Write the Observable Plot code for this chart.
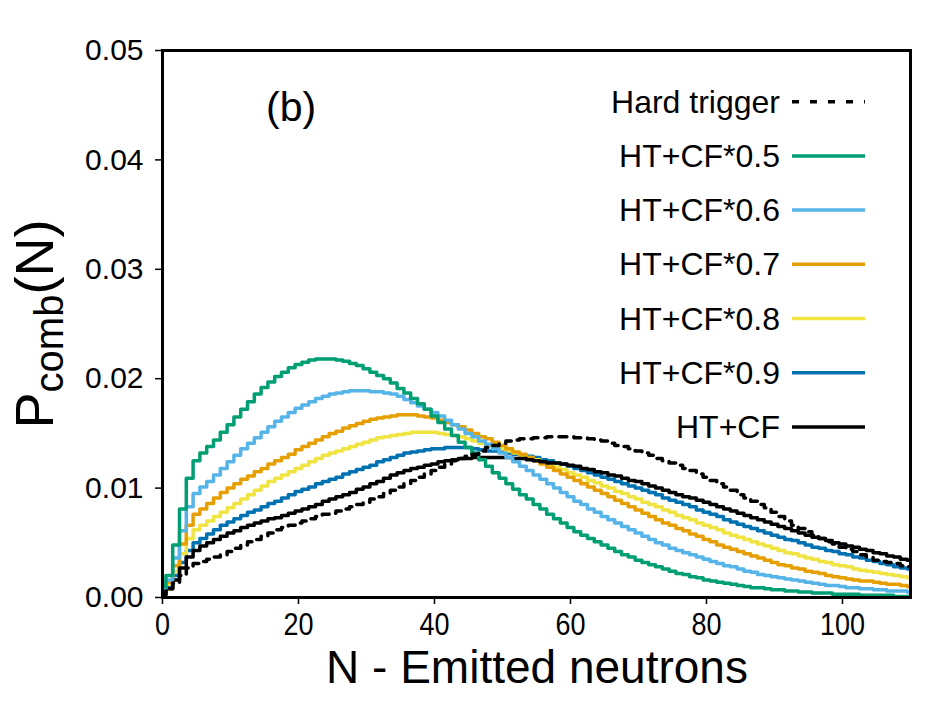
<!DOCTYPE html>
<html><head><meta charset="utf-8">
<script src="https://cdn.jsdelivr.net/npm/d3@7"></script>
<script src="https://cdn.jsdelivr.net/npm/@observablehq/plot@0.6"></script>
<style>
body{margin:0;background:#fff;}
#chart{width:932px;height:720px;}
svg text{font-family:"Liberation Sans",Arial,sans-serif;}
</style></head><body><div id="chart"></div>
<script>
// N - emitted neutrons (bins 0..110)
const N = d3.range(0, 111);
const xTicks = [0, 20, 40, 60, 80, 100];
const yTicks = [0, 0.01, 0.02, 0.03, 0.04, 0.05];

const hardTrigger = [
.0002,.0008,.0013,.0020,.0027,.0031,.0033,.0035,.0037,.0039,
.0042,.0045,.0048,.0051,.0053,.0056,.0059,.0062,.0064,.0066,
.0068,.0070,.0072,.0074,.0076,.0077,.0079,.0081,.0083,.0085,
.0087,.0090,.0092,.0095,.0098,.0101,.0104,.0107,.0110,.0113,
.0116,.0119,.0122,.0125,.0127,.0129,.0131,.0134,.0137,.0139,
.0141,.0143,.0144,.0145,.0145,.0146,.0146,.0147,.0147,.0147,
.0147,.0146,.0146,.0145,.0144,.0143,.0141,.0139,.0138,.0136,
.0134,.0132,.0130,.0127,.0125,.0123,.0121,.0118,.0116,.0113,
.0110,.0107,.0104,.0101,.0098,.0094,.0091,.0088,.0085,.0082,
.0078,.0074,.0070,.0066,.0063,.0060,.0057,.0054,.0051,.0049,
.0046,.0044,.0042,.0039,.0037,.0034,.0033,.0032,.0031,.0029,
.0028];
const cf05 = [
.0010,.0020,.0048,.0081,.0109,.0125,.0132,.0138,.0144,.0151,
.0158,.0165,.0172,.0179,.0186,.0192,.0197,.0202,.0206,.0210,
.0213,.0215,.0217,.0218,.0218,.0218,.0217,.0216,.0214,.0212,
.0209,.0206,.0203,.0200,.0196,.0191,.0187,.0182,.0177,.0172,
.0166,.0160,.0154,.0148,.0142,.0137,.0132,.0126,.0120,.0114,
.0109,.0104,.0099,.0094,.0090,.0085,.0081,.0076,.0072,.0068,
.0064,.0060,.0057,.0054,.0051,.0048,.0045,.0042,.0039,.0037,
.0034,.0032,.0030,.0028,.0026,.0024,.0022,.0021,.0019,.0018,
.0016,.0015,.0014,.0013,.0012,.0011,.0010,.0009,.0009,.0008,
.0007,.0007,.0006,.0006,.0005,.0005,.0004,.0004,.0004,.0003,
.0003,.0003,.0003,.0002,.0002,.0002,.0002,.0002,.0001,.0001,
.0001];
const cf06 = [
.0008,.0016,.0036,.0061,.0083,.0095,.0101,.0106,.0112,.0118,
.0124,.0130,.0136,.0141,.0146,.0151,.0156,.0161,.0165,.0169,
.0173,.0176,.0179,.0182,.0184,.0186,.0187,.0188,.0189,.0189,
.0189,.0188,.0188,.0187,.0186,.0184,.0181,.0178,.0175,.0172,
.0169,.0166,.0162,.0158,.0154,.0150,.0147,.0143,.0140,.0136,
.0132,.0128,.0124,.0120,.0116,.0112,.0108,.0104,.0100,.0096,
.0092,.0088,.0085,.0081,.0078,.0074,.0071,.0068,.0065,.0062,
.0059,.0056,.0053,.0050,.0048,.0045,.0043,.0041,.0039,.0037,
.0035,.0033,.0031,.0029,.0028,.0026,.0024,.0023,.0021,.0020,
.0019,.0018,.0017,.0016,.0015,.0014,.0013,.0012,.0011,.0011,
.0010,.0009,.0009,.0008,.0008,.0007,.0007,.0006,.0006,.0006,
.0005];
const cf07 = [
.0006,.0014,.0029,.0049,.0066,.0076,.0081,.0086,.0091,.0096,
.0100,.0104,.0108,.0111,.0115,.0118,.0122,.0125,.0128,.0131,
.0135,.0138,.0141,.0144,.0147,.0150,.0152,.0155,.0157,.0159,
.0161,.0163,.0164,.0165,.0166,.0167,.0167,.0167,.0166,.0165,
.0164,.0162,.0160,.0158,.0156,.0153,.0150,.0147,.0145,.0142,
.0139,.0136,.0133,.0131,.0128,.0125,.0122,.0119,.0116,.0113,
.0110,.0107,.0104,.0101,.0098,.0095,.0092,.0089,.0086,.0083,
.0080,.0077,.0074,.0071,.0068,.0066,.0063,.0061,.0058,.0056,
.0053,.0051,.0048,.0046,.0044,.0042,.0040,.0038,.0036,.0034,
.0032,.0030,.0029,.0027,.0026,.0024,.0023,.0022,.0020,.0019,
.0018,.0017,.0016,.0015,.0015,.0014,.0013,.0012,.0012,.0011,
.0010];
const cf08 = [
.0005,.0012,.0024,.0040,.0054,.0062,.0066,.0070,.0074,.0078,
.0082,.0086,.0090,.0094,.0098,.0102,.0106,.0109,.0112,.0115,
.0118,.0121,.0124,.0127,.0130,.0132,.0134,.0136,.0138,.0140,
.0142,.0144,.0146,.0147,.0148,.0149,.0150,.0151,.0151,.0151,
.0151,.0150,.0149,.0148,.0147,.0145,.0143,.0141,.0139,.0138,
.0136,.0134,.0132,.0130,.0128,.0126,.0124,.0121,.0119,.0117,
.0114,.0112,.0110,.0107,.0105,.0102,.0100,.0097,.0095,.0092,
.0090,.0087,.0085,.0083,.0080,.0078,.0075,.0073,.0071,.0068,
.0066,.0064,.0062,.0059,.0057,.0055,.0053,.0051,.0049,.0047,
.0045,.0043,.0041,.0040,.0038,.0036,.0035,.0033,.0032,.0030,
.0029,.0028,.0026,.0025,.0024,.0023,.0022,.0021,.0020,.0019,
.0018];
const cf09 = [
.0004,.0010,.0020,.0032,.0043,.0050,.0054,.0058,.0062,.0066,
.0069,.0072,.0075,.0078,.0080,.0083,.0086,.0088,.0091,.0094,
.0097,.0099,.0101,.0104,.0106,.0108,.0110,.0113,.0115,.0117,
.0119,.0121,.0124,.0126,.0128,.0130,.0132,.0133,.0134,.0135,
.0136,.0136,.0137,.0137,.0137,.0137,.0136,.0135,.0134,.0134,
.0133,.0132,.0131,.0130,.0129,.0128,.0126,.0125,.0123,.0122,
.0120,.0118,.0116,.0114,.0112,.0110,.0108,.0106,.0104,.0102,
.0100,.0098,.0096,.0094,.0091,.0089,.0087,.0085,.0083,.0080,
.0078,.0076,.0074,.0071,.0069,.0067,.0065,.0063,.0061,.0059,
.0057,.0055,.0053,.0052,.0050,.0048,.0046,.0045,.0043,.0042,
.0040,.0039,.0037,.0036,.0034,.0033,.0031,.0030,.0028,.0027,
.0026];
const cf10 = [
.0003,.0008,.0016,.0027,.0037,.0043,.0047,.0050,.0053,.0056,
.0059,.0061,.0064,.0066,.0068,.0070,.0072,.0073,.0075,.0077,
.0079,.0081,.0083,.0085,.0088,.0090,.0092,.0094,.0096,.0099,
.0101,.0104,.0106,.0109,.0112,.0114,.0116,.0118,.0119,.0121,
.0122,.0124,.0125,.0126,.0127,.0127,.0128,.0128,.0128,.0128,
.0128,.0128,.0127,.0127,.0126,.0125,.0124,.0123,.0123,.0122,
.0121,.0120,.0118,.0117,.0115,.0114,.0112,.0111,.0109,.0107,
.0106,.0104,.0102,.0100,.0098,.0096,.0094,.0092,.0091,.0089,
.0087,.0085,.0083,.0081,.0079,.0077,.0075,.0073,.0071,.0069,
.0067,.0065,.0063,.0061,.0059,.0057,.0055,.0054,.0052,.0050,
.0049,.0047,.0046,.0044,.0043,.0041,.0040,.0038,.0037,.0035,
.0034];

const seriesNames = ["Hard trigger", "HT+CF*0.5", "HT+CF*0.6", "HT+CF*0.7", "HT+CF*0.8", "HT+CF*0.9", "HT+CF"];
const seriesValues = [hardTrigger, cf05, cf06, cf07, cf08, cf09, cf10];
const seriesColors = ["#000000", "#009E73", "#56B4E9", "#E69F00", "#F0E442", "#0072B2", "#000000"];
const drawOrder = ["HT+CF*0.9", "HT+CF*0.8", "HT+CF*0.7", "HT+CF", "HT+CF*0.6", "HT+CF*0.5", "Hard trigger"];

const table = [];
seriesNames.forEach((name, k) => seriesValues[k].forEach((v, i) => table.push({series: name, N: N[i], v})));
const colorOf = name => seriesColors[seriesNames.indexOf(name)];
const dashOf = name => name === "Hard trigger" ? "8,7" : null;

const plot = Plot.plot({
  width: 932, height: 720,
  marginLeft: 162, marginRight: 22, marginTop: 50, marginBottom: 123,
  style: {fontFamily: "Liberation Sans, Arial, sans-serif", fontSize: "30px", background: "white", color: "black"},
  x: {domain: [0, 110]},
  y: {domain: [0, 0.05]},
  marks: [
    ...drawOrder.map(name => Plot.line(table.filter(d => d.series === name), {
      x: "N", y: "v", stroke: colorOf(name), strokeWidth: 3.5, curve: "step",
      strokeDasharray: dashOf(name), clip: true
    })),
    Plot.frame({stroke: "black", strokeWidth: 3}),
    Plot.axisX({ticks: xTicks, tickSize: 7, tickPadding: 8, fontSize: 31, label: null, strokeWidth: 1.5}),
    Plot.axisY({ticks: yTicks, tickSize: 7, tickPadding: 12, tickFormat: d3.format(".2f"), fontSize: 30, label: null, strokeWidth: 1.5})
  ]
});
document.getElementById("chart").appendChild(plot);

const svg = d3.select(plot);
// slightly condensed x tick labels (append a horizontal scale after Plot's own translate)
svg.selectAll('g[aria-label="x-axis tick label"] text').each(function() {
  const tr = this.getAttribute("transform");
  if (tr) this.setAttribute("transform", `${tr} scale(0.87,1)`);
});

// axis titles
const yt = svg.append("text").attr("transform", "translate(53,324) rotate(-90)")
  .attr("text-anchor", "middle").attr("font-size", 54).attr("fill", "black");
yt.append("tspan").text("P");
yt.append("tspan").attr("font-size", 40).attr("dy", 10).text("comb");
yt.append("tspan").attr("dy", -10).text("(N)");

svg.append("text").attr("x", 537).attr("y", 683).attr("text-anchor", "middle")
  .attr("font-size", 46).attr("fill", "black").text("N - Emitted neutrons");

svg.append("text").attr("x", 266).attr("y", 121).attr("text-anchor", "start")
  .attr("font-size", 41).attr("fill", "black").text("(b)");

// legend
const leg = svg.append("g");
seriesNames.forEach((name, i) => {
  const y = 101.7 + i * 54.2;
  leg.append("text").attr("x", 780).attr("y", y + 11).attr("text-anchor", "end")
    .attr("font-size", 32).attr("fill", "black").text(name);
  leg.append("line").attr("x1", 792).attr("x2", 865).attr("y1", y).attr("y2", y)
    .attr("stroke", colorOf(name)).attr("stroke-width", 3.5)
    .attr("stroke-dasharray", name === "Hard trigger" ? "7,11" : null);
});
</script></body></html>
